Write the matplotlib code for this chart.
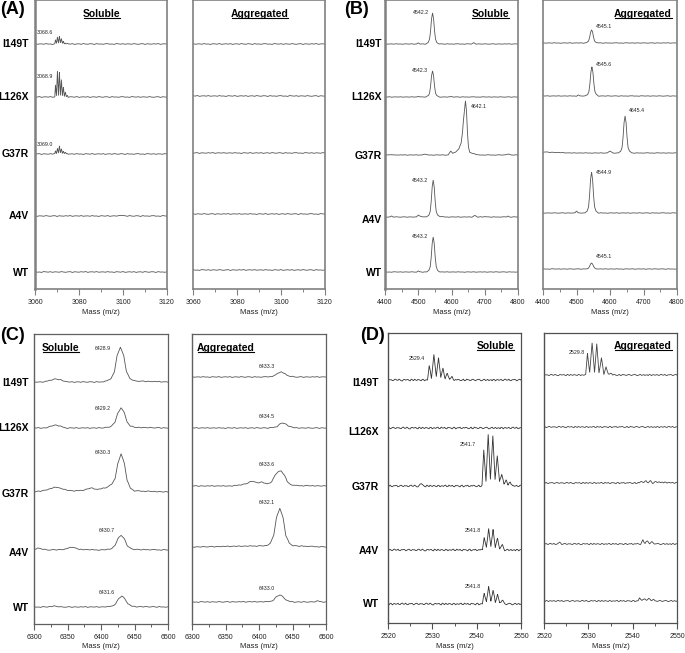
import numpy as np
import matplotlib
matplotlib.use("Agg")
import matplotlib.pyplot as plt
from matplotlib.lines import Line2D
from matplotlib.transforms import IdentityTransform
from matplotlib.ticker import MultipleLocator

plt.rcParams['font.family'] = ['Liberation Sans', 'DejaVu Sans']

samples = ['I149T', 'L126X', 'G37R', 'A4V', 'WT']

# hand-read baseline roughness (relative units)
ripple = [0.3, -0.5, 0.8, -0.2, 0.1, -0.9, 0.6, 0.2, -0.4, 0.9, -0.7, 0.0, 0.5, -0.3, 0.7, -0.8,
          0.2, 0.4, -0.6, 0.9, -0.1, -0.5, 0.6, 0.3, -0.9, 0.8, -0.2, 0.1, -0.6, 0.5, 0.7, -0.4,
          0.0, -0.8, 0.9, 0.2, -0.3, 0.6, -0.7, 0.4, 0.1, -0.5, 0.8, -0.1, -0.6, 0.3, 0.7, -0.9,
          0.5, 0.0, -0.4, 0.6, -0.2, 0.9, -0.7, 0.2, 0.4, -0.3, 0.8, -0.5, 0.1]
ripple_fine = [-0.6, 0.7, -0.3, 0.9, -0.8, 0.4, -0.1, 0.6, -0.9, 0.2, 0.8, -0.5, 0.3, -0.7, 0.5, 0.1,
               -0.4, 0.9, -0.6, 0.0, 0.7, -0.8, 0.3, -0.2, 0.6, -0.9, 0.4, 0.8, -0.3, -0.1, 0.5, -0.7,
               0.9, -0.4, 0.2, -0.6, 0.7, -0.2, 0.1, 0.8, -0.9, 0.3, -0.5, 0.6, 0.0, -0.8, 0.4, 0.2,
               -0.3, 0.7, -0.6, 0.9, -0.1, -0.5, 0.3, 0.6, -0.8, 0.5, -0.2, 0.4]

# ---------------- Panel A (m/z 3060-3120) ----------------
a_iso_x = [3060, 3069.0, 3069.3, 3069.75, 3070.2, 3070.65, 3071.1, 3071.55, 3072.0, 3072.45,
           3072.9, 3073.35, 3073.8, 3074.25, 3074.7, 3075.1, 3120]
a_sol_x = [a_iso_x, a_iso_x, a_iso_x, [3060, 3098, 3099, 3100, 3101, 3120], [3060, 3120]]
a_sol_y = [[0, 0, 4, 0.5, 7, 1, 8, 1, 5, 0.5, 3, 0.3, 1, 0, 0.5, 0, 0],
           [0, 0, 12, 1, 26, 1.5, 25, 1.5, 17, 1, 10, 0.5, 5, 0.3, 2, 0, 0],
           [0, 0, 3, 0.5, 6, 1, 8, 1, 5, 0.5, 3, 0.3, 1.5, 0, 0.5, 0, 0],
           [0, 0, 1, 0.5, 0, 0],
           [0, 0]]
a_agg_x = [[3060, 3120]] * 5
a_agg_y = [[0, 0]] * 5
a_sol_labels = ['3068.6', '3068.9', '3069.0', None, None]

# ---------------- Panel B (m/z 4400-4800), (mass, intensity) vertices ----------------
b_sol_pts = [
    [(4400, 0), (4495, 0), (4500, 1), (4505, 0), (4523, 0), (4530, 1.5), (4534, 4.7), (4537, 13), (4540, 25.4),
     (4543, 31), (4546, 25.4), (4549, 13), (4552, 4.7), (4556, 1.5), (4563, 0), (4660, 0), (4667, 1.2), (4674, 0),
     (4800, 0)],
    [(4400, 0), (4495, 0), (4500, 1), (4505, 0), (4523, 0), (4530, 1.3), (4534, 3.9), (4537, 10.9), (4540, 21.3),
     (4543, 26), (4546, 21.3), (4549, 10.9), (4552, 3.9), (4556, 1.3), (4563, 0), (4595, 0), (4600, 0.6),
     (4605, 0), (4800, 0)],
    [(4400, 0), (4415, 0), (4420, 0.6), (4425, 0), (4512, 0), (4520, 1), (4528, 0), (4590, 0), (4598, 4),
     (4604, 1.5), (4612, 3), (4622, 6), (4629, 12), (4633, 22.7), (4636, 35), (4639, 44.3), (4642, 54),
     (4645, 44.3), (4648, 22.7), (4651, 8.1), (4655, 2.7), (4662, 1.5), (4670, 1.2), (4680, 0), (4760, 0),
     (4770, 1), (4780, 0), (4800, 0)],
    [(4400, 0), (4415, 0), (4420, 1), (4425, 0), (4495, 0), (4500, 2), (4506, 0.5), (4525, 0), (4532, 1.9),
     (4536, 5.6), (4539, 15.5), (4542, 30.3), (4545, 37), (4548, 30.3), (4551, 15.5), (4554, 5.6), (4558, 1.9),
     (4565, 0.5), (4580, 0), (4662, 0), (4670, 1.5), (4678, 0), (4695, 0), (4700, 0.6), (4705, 0), (4765, 0),
     (4770, 1), (4775, 0), (4800, 0)],
    [(4400, 0), (4495, 0), (4500, 1), (4505, 0), (4525, 0), (4532, 1.8), (4536, 5.3), (4539, 14.7), (4542, 28.7),
     (4545, 35), (4548, 28.7), (4551, 14.7), (4554, 5.3), (4558, 1.8), (4565, 0), (4800, 0)],
]
b_agg_pts = [
    [(4400, 0), (4525, 0), (4532, 0.7), (4536, 2), (4539, 5.5), (4542, 10.7), (4545, 13), (4548, 10.7),
     (4551, 5.5), (4554, 2), (4558, 0.7), (4565, 0), (4800, 0)],
    [(4400, 0), (4500, 0), (4505, 1), (4510, 0), (4526, 0), (4533, 1.5), (4537, 4.4), (4540, 12.2), (4543, 23.8),
     (4546, 29), (4549, 23.8), (4552, 12.2), (4555, 4.4), (4559, 1.5), (4566, 0), (4800, 0)],
    [(4400, 1), (4480, 0), (4592, 0), (4600, 2), (4608, 0), (4625, 0), (4632, 1.9), (4636, 5.6), (4639, 15.5),
     (4642, 30.3), (4645, 37), (4648, 30.3), (4651, 15.5), (4654, 5.6), (4658, 1.9), (4665, 0), (4800, 0)],
    [(4400, 0), (4495, 0), (4500, 2), (4505, 0), (4525, 0), (4532, 2), (4536, 6.2), (4539, 17.2), (4542, 33.6),
     (4545, 41), (4548, 33.6), (4551, 17.2), (4554, 6.2), (4558, 2), (4565, 0), (4800, 0)],
    [(4400, 0), (4525, 0), (4532, 0.3), (4536, 0.9), (4539, 2.5), (4542, 4.9), (4545, 6), (4548, 4.9),
     (4551, 2.5), (4554, 0.9), (4558, 0.3), (4565, 0), (4800, 0)],
]
b_sol_labels = ['4542.2', '4542.3', '4642.1', '4543.2', '4543.2']
b_agg_labels = ['4545.1', '4545.6', '4645.4', '4544.9', '4545.1']

# ---------------- Panel C (m/z 6300-6500) ----------------
c_sol_x = [[6300, 6315, 6325, 6332, 6340, 6350, 6400, 6409, 6415, 6420, 6424, 6429, 6434, 6438, 6443, 6450, 6500],
           [6300, 6318, 6326, 6332, 6338, 6348, 6400, 6410, 6416, 6421, 6425, 6430, 6435, 6439, 6444, 6450, 6500],
           [6300, 6310, 6318, 6326, 6333, 6340, 6348, 6360, 6375, 6385, 6395, 6405, 6410, 6416, 6421, 6425,
            6430, 6435, 6439, 6444, 6450, 6500],
           [6300, 6305, 6312, 6320, 6345, 6357, 6368, 6400, 6410, 6416, 6421, 6425, 6430, 6435, 6439, 6444, 6450, 6500],
           [6300, 6320, 6330, 6340, 6400, 6411, 6417, 6422, 6426, 6431, 6436, 6440, 6445, 6451, 6500]]
c_sol_y = [[0, 0, 2, 3, 2, 0, 0, 1, 3.5, 10.5, 26, 35, 26, 10.5, 3.5, 1, 0],
           [0, 0, 2, 3, 2, 0, 0, 0.6, 2, 6, 15, 20, 15, 6, 2, 0.6, 0],
           [0, 1, 2, 3.5, 5, 3.5, 2, 1, 2, 4, 2.5, 4, 5, 8, 13, 28.5, 38, 28.5, 11.4, 3.8, 1.1, 0],
           [0, 2, 1, 0, 0.5, 3, 0.5, 0, 0.5, 1.5, 4.5, 11, 15, 11, 4.5, 1.5, 0.5, 0],
           [0, 0, 1, 0, 0, 0.3, 1.1, 3.3, 8, 11, 8, 3.3, 1.1, 0.3, 0]]
c_agg_x = [[6300, 6410, 6418, 6424, 6428, 6433, 6438, 6442, 6448, 6455, 6500],
           [6300, 6413, 6421, 6427, 6431, 6436, 6441, 6445, 6451, 6458, 6500],
           [6300, 6360, 6370, 6380, 6390, 6398, 6405, 6412, 6419, 6424, 6428, 6433, 6438, 6442, 6447, 6454, 6500],
           [6300, 6411, 6417, 6422, 6426, 6431, 6436, 6440, 6445, 6451, 6500],
           [6300, 6411, 6417, 6422, 6426, 6431, 6436, 6440, 6445, 6451, 6480, 6488, 6495, 6500]]
c_agg_y = [[0, 0, 0.5, 1.5, 3.8, 5, 3.8, 1.5, 0.5, 0, 0],
           [0, 0, 0.5, 1.5, 3.8, 5, 3.8, 1.5, 0.5, 0, 0],
           [0, 0, 1, 2, 5, 3, 4, 2, 4, 11, 14, 15, 11, 4.5, 1.5, 0.4, 0],
           [0, 1.2, 3.9, 11.7, 29, 39, 29, 11.7, 3.9, 1.2, 0],
           [0, 0.2, 0.7, 2.1, 5.3, 7, 5.3, 2.1, 0.7, 0, 0, 1, 0, 0]]
c_sol_labels = ['6428.9', '6429.2', '6430.3', '6430.7', '6431.6']
c_agg_labels = ['6433.3', '6434.5', '6433.6', '6432.1', '6433.0']

# ---------------- Panel D (m/z 2520-2550) ----------------
d_sol_x = [[2520, 2528.9, 2529.3, 2529.8, 2530.35, 2530.9, 2531.4, 2531.9, 2532.4, 2532.9, 2533.4, 2533.9,
            2534.4, 2534.9, 2550],
           [2520, 2550],
           [2520, 2527.0, 2527.5, 2528.0, 2541.2, 2541.6, 2542.1, 2542.6, 2543.1, 2543.65, 2544.15, 2544.65,
            2545.15, 2545.65, 2546.15, 2546.65, 2547.1, 2547.6, 2548.1, 2550],
           [2520, 2541.3, 2541.7, 2542.2, 2542.7, 2543.2, 2543.7, 2544.2, 2544.7, 2545.2, 2545.8, 2546.3, 2550],
           [2520, 2541.3, 2541.7, 2542.2, 2542.7, 2543.2, 2543.7, 2544.2, 2544.7, 2545.2, 2545.8, 2546.3, 2550]]
d_sol_y = [[0, 0, 14, 2, 25, 3, 23, 2, 12, 1, 7, 0.5, 3, 0, 0],
           [0, 0],
           [0, 0, 2.5, 0, 0, 36, 5, 51, 7, 50, 6, 31, 4, 12, 2, 6, 1, 4, 0, 0],
           [0, 0, 13, 2, 22, 3, 21, 2, 12, 1, 5, 0, 0],
           [0, 0, 11, 2, 17, 3, 14, 2, 9, 1, 4, 0, 0]]
d_agg_x = [[2520, 2529.4, 2529.8, 2530.3, 2530.85, 2531.4, 2531.9, 2532.4, 2532.95, 2533.5, 2534.0, 2534.5,
            2535.0, 2535.5, 2550],
           [2520, 2550],
           [2520, 2541.5, 2542.0, 2542.5, 2543.0, 2543.5, 2544.0, 2544.5, 2545.0, 2550],
           [2520, 2523.0, 2523.5, 2524.0, 2541.8, 2542.3, 2542.8, 2543.3, 2543.8, 2544.3, 2544.8, 2545.5, 2550],
           [2520, 2541.2, 2541.6, 2542.1, 2542.6, 2543.1, 2543.6, 2544.1, 2544.6, 2545.1, 2550]]
d_agg_y = [[0, 0, 22, 2, 32, 3, 31, 2, 17, 1, 8, 0.5, 2, 0, 0],
           [0, 0],
           [0, 0, 2, 0, 2.5, 0, 2, 0, 1, 0],
           [0, 0, 1.5, 0, 0, 4, 0.5, 3, 0.5, 2, 0.5, 0, 0],
           [0, 0, 3, 0.5, 2, 0.5, 3, 0.5, 1.5, 0, 0]]
d_sol_labels = ['2529.4', None, '2541.7', '2541.8', '2541.8']
d_agg_labels = ['2529.8', None, None, None, None]

xticks_A = [3060, 3080, 3100, 3120]
xticks_B = [4400, 4500, 4600, 4700, 4800]
xticks_C = [6300, 6350, 6400, 6450, 6500]
xticks_D = [2520, 2530, 2540, 2550]

# ---------------- layout (pixels) ----------------
W, H = 685, 653
fig = plt.figure(figsize=(W / 100, H / 100), dpi=100)


def rect(x0, y0, x1, y1):
    return [x0 / W, 1 - y1 / H, (x1 - x0) / W, (y1 - y0) / H]


def fx(x):
    return x / W


def fy(y):
    return 1 - y / H


underline_texts = []

# interleaved fine roughness for the noisier panel D
ripple_dense = []
for a, b in zip(ripple, ripple_fine):
    ripple_dense += [a, b]
ripple_dense.append(ripple[-1])


def make_axes(r, xlim, ticks, minor, spine_col, spine_lw, left_lw):
    ax = fig.add_axes(rect(*r))
    ax.set_xlim(*xlim)
    ax.set_ylim(0, r[3] - r[1])
    ax.set_xticks(ticks)
    ax.xaxis.set_minor_locator(MultipleLocator(minor))
    ax.set_yticks([])
    for s in ax.spines.values():
        s.set_color(spine_col)
        s.set_linewidth(spine_lw)
    ax.spines['left'].set_linewidth(left_lw)
    ax.tick_params(axis='x', which='major', direction='out', length=4, width=0.8,
                   color=spine_col, labelsize=5, pad=3, labelcolor='#222222')
    ax.tick_params(axis='x', which='minor', direction='out', length=2.5, width=0.7, color=spine_col)
    ax.set_xlabel('Mass (m/z)', fontsize=5.5, labelpad=2, color='#222222')
    return ax


def draw_traces(ax, xs_list, ys_list, offsets, amp, xlim, rip_src=ripple, color='#4a4a4a', lw=0.6):
    grid = np.linspace(xlim[0], xlim[1], len(rip_src))
    for i, (px, py) in enumerate(zip(xs_list, ys_list)):
        rip = np.roll(np.array(rip_src), 7 * i + 3) * amp
        xs = np.union1d(grid, np.array(px, dtype=float))
        ys = np.interp(xs, px, py) + np.interp(xs, grid, rip)
        ax.plot(xs, ys + offsets[i], color=color, lw=lw, solid_joinstyle='miter')


def pts_xy(pts_list):
    xs = [[p[0] for p in pts] for pts in pts_list]
    ys = [[p[1] for p in pts] for pts in pts_list]
    return xs, ys


def peak_labels(ax, labels, pos, offsets, ha):
    for i, lab in enumerate(labels):
        if lab is None:
            continue
        x, dy = pos[i]
        ax.text(x, offsets[i] + dy, lab, fontsize=3.8, ha=ha, va='center', color='#222222')


def sample_labels(xr, ys):
    for s, y in zip(samples, ys):
        fig.text(fx(xr), fy(y), s, fontsize=7.5, fontweight='bold', ha='right', va='center')


def title(x, y, s, ha):
    t = fig.text(fx(x), fy(y), s, fontsize=7.5, fontweight='bold', ha=ha, va='center')
    underline_texts.append(t)


# ----- Panel A -----
axA1 = make_axes((35, 0, 167, 289), (3060, 3120), xticks_A, 10, '#808080', 1.2, 1.8)
axA2 = make_axes((193, 0, 325, 289), (3060, 3120), xticks_A, 10, '#808080', 1.2, 1.2)
off_a1 = [245, 192, 135, 73, 17]
off_a2 = [245, 193, 136, 75, 19]
draw_traces(axA1, a_sol_x, a_sol_y, off_a1, 0.5, (3060, 3120), color='#555555')
draw_traces(axA2, a_agg_x, a_agg_y, off_a2, 0.5, (3060, 3120), color='#555555')
peak_labels(axA1, a_sol_labels, [(3061, 12), (3061, 20), (3061, 10), None, None], off_a1, 'left')
sample_labels(29, [44, 97, 154, 216, 273])
title(102, 14, 'Soluble', 'center')
title(260, 14, 'Aggregated', 'center')
fig.text(fx(0), fy(9), '(A)', fontsize=13, fontweight='bold', ha='left', va='center')

# ----- Panel B -----
axB1 = make_axes((385, 0, 518, 289), (4400, 4800), xticks_B, 50, '#808080', 1.2, 1.8)
axB2 = make_axes((543, 0, 677, 289), (4400, 4800), xticks_B, 50, '#808080', 1.2, 1.2)
off_b1 = [245, 192, 134, 72, 17]
off_b2 = [246, 193, 136, 76, 20]
b_sol_x, b_sol_y = pts_xy(b_sol_pts)
b_agg_x, b_agg_y = pts_xy(b_agg_pts)
draw_traces(axB1, b_sol_x, b_sol_y, off_b1, 0.3, (4400, 4800), color='#555555')
draw_traces(axB2, b_agg_x, b_agg_y, off_b2, 0.3, (4400, 4800), color='#555555')
for i, lab in enumerate(b_sol_labels):
    if i == 2:
        axB1.text(4658, off_b1[i] + 48, lab, fontsize=3.8, ha='left', va='center', color='#222222')
    else:
        dy = [31, 26, 0, 37, 35][i]
        axB1.text(4531, off_b1[i] + dy, lab, fontsize=3.8, ha='right', va='center', color='#222222')
for i, lab in enumerate(b_agg_labels):
    x = 4658 if i == 2 else 4558
    dy = [16, 31, 42, 41, 12][i]
    axB2.text(x, off_b2[i] + dy, lab, fontsize=3.8, ha='left', va='center', color='#222222')
sample_labels(382, [44, 97, 156, 220, 273])
title(509, 14, 'Soluble', 'right')
title(672, 14, 'Aggregated', 'right')
fig.text(fx(344), fy(10), '(B)', fontsize=13, fontweight='bold', ha='left', va='center')

# ----- Panel C -----
axC1 = make_axes((34, 334, 168, 624), (6300, 6500), xticks_C, 25, '#606060', 0.9, 1.0)
axC2 = make_axes((192, 334, 326, 624), (6300, 6500), xticks_C, 25, '#606060', 0.9, 1.0)
off_c1 = [242, 196, 132, 74, 17]
off_c2 = [247, 196, 138, 77, 22]
draw_traces(axC1, c_sol_x, c_sol_y, off_c1, 0.5, (6300, 6500), color='#555555')
draw_traces(axC2, c_agg_x, c_agg_y, off_c2, 0.5, (6300, 6500), color='#555555')
peak_labels(axC1, c_sol_labels, [(6403, 34), (6403, 19), (6403, 39), (6409, 20), (6409, 15)], off_c1, 'center')
peak_labels(axC2, c_agg_labels, [(6412, 10), (6412, 12), (6412, 21), (6412, 44), (6412, 14)], off_c2, 'center')
sample_labels(29, [383, 428, 494, 553, 608])
title(42, 348, 'Soluble', 'left')
title(197, 348, 'Aggregated', 'left')
fig.text(fx(0), fy(335), '(C)', fontsize=13, fontweight='bold', ha='left', va='center')

# ----- Panel D -----
axD1 = make_axes((388, 333, 521, 623), (2520, 2550), xticks_D, 5, '#505050', 0.9, 1.0)
axD2 = make_axes((544, 333, 677, 623), (2520, 2550), xticks_D, 5, '#505050', 0.9, 1.0)
off_d1 = [243, 195, 137, 73, 19]
off_d2 = [248, 196, 140, 79, 22]
draw_traces(axD1, d_sol_x, d_sol_y, off_d1, 1.0, (2520, 2550), rip_src=ripple_dense, color='#333333', lw=0.6)
draw_traces(axD2, d_agg_x, d_agg_y, off_d2, 0.7, (2520, 2550), rip_src=ripple_dense, color='#444444', lw=0.6)
peak_labels(axD1, d_sol_labels, [(2526.5, 21), None, (2538.0, 41), (2539.2, 19), (2539.2, 17)], off_d1, 'center')
peak_labels(axD2, d_agg_labels, [(2527.4, 23), None, None, None, None], off_d2, 'center')
sample_labels(379, [383, 432, 487, 551, 604])
title(514, 346, 'Soluble', 'right')
title(672, 346, 'Aggregated', 'right')
fig.text(fx(360), fy(335), '(D)', fontsize=13, fontweight='bold', ha='left', va='center')

# underline the section titles
fig.canvas.draw()
renderer = fig.canvas.get_renderer()
for t in underline_texts:
    bb = t.get_window_extent(renderer)
    yline = bb.y0 + 1.5
    fig.add_artist(Line2D([bb.x0 + 0.5, bb.x1 - 0.5], [yline, yline], transform=IdentityTransform(),
                          color='black', lw=0.8))

fig.savefig('out.png', dpi=100)
